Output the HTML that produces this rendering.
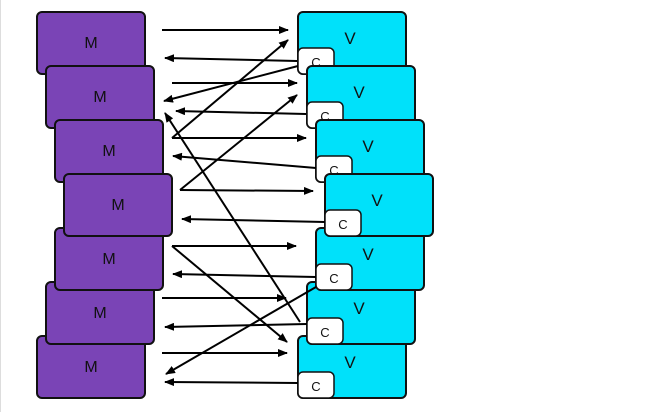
<!DOCTYPE html>
<html><head><meta charset="utf-8"><style>
html,body{margin:0;padding:0;background:#fff;}
svg{display:block;}
text{font-family:"Liberation Sans",sans-serif;}
</style></head><body>
<svg width="651" height="412" viewBox="0 0 651 412" xmlns="http://www.w3.org/2000/svg">
<defs>
<marker id="a" markerWidth="10" markerHeight="8" refX="9" refY="4" orient="auto" markerUnits="userSpaceOnUse">
<path d="M0,0 L10,4 L0,8 Z" fill="#000"/>
</marker>
<g id="m"><rect x="1" y="1" width="108" height="62" rx="5" fill="#7a44b6" stroke="#111" stroke-width="2"/><text x="55" y="37" font-size="16" text-anchor="middle" fill="#111">M</text></g>
<g id="v"><rect x="1" y="1" width="108" height="62" rx="5" fill="#00e1fa" stroke="#111" stroke-width="2"/><text x="53" y="33" font-size="17" text-anchor="middle" fill="#111">V</text>
<rect x="1" y="37" width="36" height="26" rx="5" fill="#fff" stroke="#111" stroke-width="1.5"/><text x="19" y="56" font-size="13" text-anchor="middle" fill="#111">C</text></g>
</defs>
<line x1="0.5" y1="0" x2="0.5" y2="412" stroke="#ddd"/>
<use href="#m" x="36" y="11"/>
<use href="#m" x="45" y="65"/>
<use href="#m" x="54" y="119"/>
<use href="#m" x="36" y="335"/>
<use href="#m" x="45" y="281"/>
<use href="#m" x="54" y="227"/>
<use href="#m" x="63" y="173"/>
<use href="#v" x="297" y="11"/>
<use href="#v" x="306" y="65"/>
<use href="#v" x="315" y="119"/>
<use href="#v" x="297" y="335"/>
<use href="#v" x="306" y="281"/>
<use href="#v" x="315" y="227"/>
<use href="#v" x="324" y="173"/>
<g stroke="#000" stroke-width="2" marker-end="url(#a)" fill="none">
<line x1="162" y1="30" x2="288" y2="30"/>
<line x1="297" y1="61" x2="165" y2="58"/>
<line x1="172" y1="83" x2="297" y2="83"/>
<line x1="298" y1="66" x2="164" y2="101"/>
<line x1="306" y1="114" x2="176" y2="111"/>
<line x1="172" y1="138" x2="288" y2="40"/>
<line x1="172" y1="138" x2="306" y2="138"/>
<line x1="180" y1="190" x2="297" y2="95"/>
<line x1="180" y1="190" x2="313" y2="191"/>
<line x1="316" y1="168" x2="173" y2="156"/>
<line x1="300" y1="322" x2="165" y2="113"/>
<line x1="325" y1="222" x2="182" y2="219"/>
<line x1="172" y1="246" x2="296" y2="246"/>
<line x1="172" y1="246" x2="287" y2="342"/>
<line x1="316" y1="277" x2="173" y2="274"/>
<line x1="162" y1="298" x2="286" y2="298"/>
<line x1="307" y1="324" x2="165" y2="327"/>
<line x1="162" y1="353" x2="287" y2="353"/>
<line x1="316" y1="287" x2="166" y2="374"/>
<line x1="298" y1="383" x2="165" y2="382"/>
</g>
</svg>
</body></html>
